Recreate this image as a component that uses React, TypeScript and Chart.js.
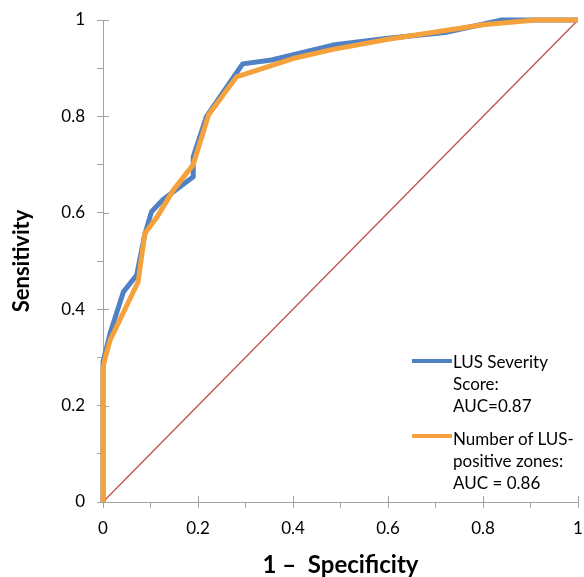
import React, { useEffect, useRef } from "react";
import { Chart, registerables } from "chart.js";

Chart.register(...registerables);

// LUS Severity Score ROC curve
const fprScore = [0, 0, 0.015, 0.043, 0.071, 0.088, 0.102, 0.126, 0.19, 0.19, 0.218, 0.294, 0.355, 0.484, 0.6, 0.72, 0.84, 1];
const tprScore = [0, 0.29, 0.35, 0.436, 0.471, 0.555, 0.602, 0.627, 0.675, 0.716, 0.8, 0.909, 0.917, 0.948, 0.962, 0.974, 1, 1];

// Number of LUS-positive zones ROC curve
const fprZones = [0, 0, 0.005, 0.015, 0.074, 0.088, 0.113, 0.148, 0.19, 0.222, 0.281, 0.4, 0.484, 0.6, 0.7, 0.8, 0.91, 1];
const tprZones = [0, 0.28, 0.3, 0.336, 0.457, 0.557, 0.59, 0.647, 0.7, 0.803, 0.882, 0.92, 0.939, 0.96, 0.975, 0.99, 1, 1];

// Reference diagonal
const fprDiag = [0, 1];
const tprDiag = [0, 1];

const legendScore = ["LUS Severity", "Score:", "AUC=0.87"];
const legendZones = ["Number of LUS-", "positive zones:", "AUC = 0.86"];

const xTitle = "1 –  Specificity";
const yTitle = "Sensitivity";

const BLUE = "#4f81c4";
const ORANGE = "#f5a13c";
const RED = "#c0504d";
const AXIS = "#a3a3a3";
const FONT = "Lato, 'Open Sans', sans-serif";

const toPts = (xs: number[], ys: number[]) => xs.map((x, i) => ({ x, y: ys[i] }));

const fmt = (v: number) => {
  const r = Math.round(v * 10);
  if (r % 2 !== 0) return "";
  if (r === 0) return "0";
  if (r === 10) return "1";
  return (r / 10).toString();
};

const innerTicks = {
  id: "innerTicks",
  beforeDatasetsDraw(chart: any) {
    const { ctx, chartArea, scales } = chart;
    ctx.save();
    ctx.strokeStyle = AXIS;
    ctx.lineWidth = 1;
    for (let i = 0; i <= 10; i += 2) {
      const v = i / 10;
      const xp = Math.round(scales.x.getPixelForValue(v)) + 0.5;
      ctx.beginPath();
      ctx.moveTo(xp, chartArea.bottom);
      ctx.lineTo(xp, chartArea.bottom - 6);
      ctx.stroke();
      const yp = Math.round(scales.y.getPixelForValue(v)) + 0.5;
      ctx.beginPath();
      ctx.moveTo(chartArea.left, yp);
      ctx.lineTo(chartArea.left + 6, yp);
      ctx.stroke();
    }
    ctx.restore();
  },
};

export default function App() {
  const ref = useRef<HTMLCanvasElement | null>(null);

  useEffect(() => {
    if (!ref.current) return;
    const chart = new Chart(ref.current, {
      type: "scatter",
      data: {
        datasets: [
          {
            label: "diag",
            data: toPts(fprDiag, tprDiag),
            showLine: true,
            borderColor: RED,
            borderWidth: 1.3,
            pointRadius: 0,
            order: 3,
          },
          {
            label: "LUS Severity Score: AUC=0.87",
            data: toPts(fprScore, tprScore),
            showLine: true,
            borderColor: BLUE,
            borderWidth: 5,
            pointRadius: 0,
            borderJoinStyle: "round",
            order: 2,
            clip: 10,
          },
          {
            label: "Number of LUS-positive zones: AUC = 0.86",
            data: toPts(fprZones, tprZones),
            showLine: true,
            borderColor: ORANGE,
            borderWidth: 5,
            pointRadius: 0,
            borderJoinStyle: "round",
            order: 1,
            clip: 10,
          },
        ] as any,
      },
      options: {
        animation: false,
        responsive: false,
        layout: { padding: { top: 20, right: 6, left: 0, bottom: 0 } },
        plugins: { legend: { display: false }, tooltip: { enabled: false } },
        scales: {
          x: {
            type: "linear",
            min: 0,
            max: 1,
            afterFit: (s: any) => {
              s.height = 75;
              s.paddingLeft = 0;
              s.paddingRight = 0;
            },
            border: { display: true, color: AXIS, width: 1 },
            grid: { display: true, drawOnChartArea: false, drawTicks: true, tickLength: 6, tickColor: AXIS },
            ticks: {
              stepSize: 0.1,
              autoSkip: false,
              maxRotation: 0,
              padding: 10,
              color: "#000",
              font: { family: FONT, size: 17 },
              callback: (v: any) => fmt(Number(v)),
            },
            title: {
              display: true,
              text: xTitle,
              color: "#000",
              font: { family: FONT, size: 24, weight: "bold", lineHeight: 1 },
              padding: { top: 0, bottom: 0 },
            },
          },
          y: {
            type: "linear",
            min: 0,
            max: 1,
            afterFit: (s: any) => {
              s.width = 103;
              s.paddingTop = 0;
              s.paddingBottom = 0;
            },
            border: { display: true, color: AXIS, width: 1 },
            grid: { display: true, drawOnChartArea: false, drawTicks: true, tickLength: 6, tickColor: AXIS },
            ticks: {
              stepSize: 0.1,
              autoSkip: false,
              padding: 12,
              color: "#000",
              font: { family: FONT, size: 17 },
              callback: (v: any) => fmt(Number(v)),
            },
            title: {
              display: true,
              text: yTitle,
              color: "#000",
              font: { family: FONT, size: 22, weight: "bold", lineHeight: 1 },
              padding: { top: 11, bottom: 0 },
            },
          },
        },
      },
      plugins: [innerTicks],
    });
    return () => chart.destroy();
  }, []);

  const textStyle: React.CSSProperties = {
    position: "absolute",
    left: 453,
    fontFamily: FONT,
    fontSize: 17,
    lineHeight: "22px",
    color: "#000",
    whiteSpace: "nowrap",
  };

  return (
    <div style={{ position: "fixed", left: 0, top: 0, width: 584, height: 577, background: "#fff" }}>
      <canvas ref={ref} width={584} height={577} style={{ display: "block" }} />
      <div style={{ position: "absolute", left: 412, top: 358.5, width: 40, height: 4, background: BLUE }} />
      <div style={{ ...textStyle, top: 350.5 }}>
        {legendScore.map((t, i) => (
          <div key={i}>{t}</div>
        ))}
      </div>
      <div style={{ position: "absolute", left: 412, top: 434, width: 40, height: 4, background: ORANGE }} />
      <div style={{ ...textStyle, top: 427.5 }}>
        {legendZones.map((t, i) => (
          <div key={i}>{t}</div>
        ))}
      </div>
    </div>
  );
}
